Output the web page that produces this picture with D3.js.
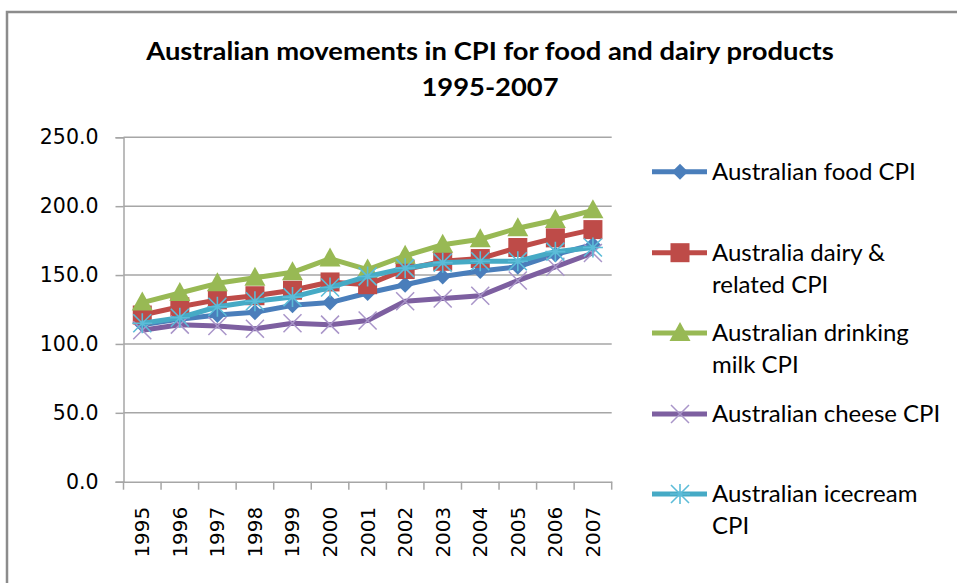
<!DOCTYPE html>
<html>
<head>
<meta charset="utf-8">
<script src="https://cdn.jsdelivr.net/npm/d3@7"></script>
<style>
  body { margin: 0; background: #fff; }
  svg { display: block; }
</style>
</head>
<body>
<svg id="chart" width="957" height="583"></svg>
<script>
const years = ['1995','1996','1997','1998','1999','2000','2001','2002','2003','2004','2005','2006','2007'];
const foodCPI = [114, 118, 121, 123, 128, 130, 137, 143, 149, 153, 156, 165, 172];
const dairyCPI = [121, 127, 132, 135, 139, 145, 143, 154, 160, 162, 170, 177, 183];
const milkCPI = [130, 137, 144, 148, 152, 162, 154, 164, 172, 176, 184, 190, 197];
const cheeseCPI = [110, 114, 113, 111, 115, 114, 117, 131, 133, 135, 146, 156, 166];
const icecreamCPI = [115, 119, 127, 131, 134, 141, 149, 155, 159, 160, 160, 167, 170];
const yTicks = [0, 50, 100, 150, 200, 250];
const seriesNames = [
  ['Australian food CPI'],
  ['Australia dairy &', 'related CPI'],
  ['Australian drinking', 'milk CPI'],
  ['Australian cheese CPI'],
  ['Australian icecream', 'CPI']
];

const series = [
  { values: foodCPI, color: '#4a7ebb', marker: 'diamond' },
  { values: dairyCPI, color: '#be4b48', marker: 'square' },
  { values: milkCPI, color: '#98b954', marker: 'triangle' },
  { values: cheeseCPI, color: '#7d5fa0', marker: 'x', markColor: '#a995c9' },
  { values: icecreamCPI, color: '#46aac5', marker: 'star', markColor: '#5cbcd8' }
];

const svg = d3.select('#chart');
const plot = { left: 123.5, right: 611.7, top: 137.3, bottom: 481.7 };

// frame
svg.append('path')
  .attr('d', `M7,583 V12 H957`)
  .attr('fill', 'none')
  .attr('stroke', '#8c8c8c')
  .attr('stroke-width', 2.5);

// title (source font is narrow and stretched, so widen it a bit)
const title = svg.append('text')
  .attr('text-anchor', 'middle')
  .attr('font-family', 'Lato')
  .attr('font-weight', 'bold')
  .attr('font-size', 25)
  .attr('fill', '#000')
  .attr('transform', 'translate(490,0) scale(1.095,1)');
title.append('tspan').attr('x', 0).attr('y', 60).text('Australian movements in CPI for food and dairy products');
title.append('tspan').attr('x', 0).attr('y', 96).text('1995-2007');

const x = d3.scaleBand().domain(years).range([plot.left, plot.right]);
const y = d3.scaleLinear().domain([0, 250]).range([plot.bottom, plot.top]);
const cx = d => x(d) + x.bandwidth() / 2;

// gridlines
svg.append('g')
  .selectAll('line')
  .data(yTicks.filter(d => d > 0))
  .enter().append('line')
  .attr('x1', plot.left).attr('x2', plot.right)
  .attr('y1', d => y(d)).attr('y2', d => y(d))
  .attr('stroke', '#a6a6a6').attr('stroke-width', 1.5);

// y axis
const yAxis = svg.append('g')
  .attr('transform', `translate(${plot.left},0)`)
  .call(d3.axisLeft(y).tickValues(yTicks).tickFormat(d3.format('.1f')).tickSize(8).tickPadding(17));
yAxis.select('.domain').attr('stroke', '#a6a6a6').attr('stroke-width', 1.5);
yAxis.selectAll('line').attr('stroke', '#a6a6a6').attr('stroke-width', 1.5);
yAxis.selectAll('text')
  .attr('font-family', 'DejaVu Sans')
  .attr('font-size', 20.5)
  .attr('fill', '#000');

// x axis
const xAxis = svg.append('g')
  .attr('transform', `translate(0,${plot.bottom})`)
  .call(d3.axisBottom(x).tickSize(0).tickPadding(0));
xAxis.select('.domain').attr('stroke', '#a6a6a6').attr('stroke-width', 1.5);
xAxis.selectAll('text')
  .attr('font-family', 'DejaVu Sans')
  .attr('font-size', 20)
  .attr('fill', '#000')
  .attr('text-anchor', 'end')
  .attr('dy', '0.35em')
  .attr('transform', 'translate(0,25) rotate(-90)');
xAxis.selectAll('.tick').append('line')
  .attr('x1', x.bandwidth() / 2).attr('x2', x.bandwidth() / 2)
  .attr('y1', 0).attr('y2', 8)
  .attr('stroke', '#a6a6a6').attr('stroke-width', 1.5);
xAxis.append('line')
  .attr('x1', plot.left).attr('x2', plot.left)
  .attr('y1', 0).attr('y2', 8)
  .attr('stroke', '#a6a6a6').attr('stroke-width', 1.5);

function drawMarker(g, type, fill, mark) {
  if (type === 'diamond') {
    g.append('path').attr('d', 'M0,-8 L8,0 L0,8 L-8,0 Z').attr('fill', fill);
  } else if (type === 'square') {
    g.append('rect').attr('x', -9.5).attr('y', -9.5).attr('width', 19).attr('height', 19).attr('fill', fill);
  } else if (type === 'triangle') {
    g.append('path').attr('d', 'M0,-11 L10.5,8 L-10.5,8 Z').attr('fill', fill);
  } else if (type === 'x') {
    g.append('path').attr('d', 'M-9,-9 L9,9 M-9,9 L9,-9')
      .attr('stroke', mark).attr('stroke-width', 1.5).attr('fill', 'none');
  } else if (type === 'star') {
    g.append('path').attr('d', 'M-9,-9 L9,9 M-9,9 L9,-9 M0,-10 V10 M-10,0 H10')
      .attr('stroke', mark).attr('stroke-width', 1.6).attr('fill', 'none');
  }
}

const line = d3.line().x((d, i) => cx(years[i])).y(d => y(d));

series.forEach(s => {
  const g = svg.append('g');
  g.append('path')
    .attr('d', line(s.values))
    .attr('fill', 'none')
    .attr('stroke', s.color)
    .attr('stroke-width', 5)
    .attr('stroke-linejoin', 'round');
  s.values.forEach((v, i) => {
    const m = g.append('g').attr('transform', `translate(${cx(years[i])},${y(v)})`);
    drawMarker(m, s.marker, s.color, s.markColor || s.color);
  });
});

// legend
const legendY = [171.7, 252.7, 333, 414, 494];
const legend = svg.append('g');
series.forEach((s, i) => {
  const g = legend.append('g').attr('transform', `translate(0,${legendY[i]})`);
  g.append('line')
    .attr('x1', 652).attr('x2', 707).attr('y1', 0).attr('y2', 0)
    .attr('stroke', s.color).attr('stroke-width', 5);
  const m = g.append('g').attr('transform', 'translate(680,0)');
  drawMarker(m, s.marker, s.color, s.markColor || s.color);
  const t = g.append('text')
    .attr('font-family', 'Lato')
    .attr('font-size', 24)
    .attr('fill', '#000');
  seriesNames[i].forEach((ln, j) => {
    t.append('tspan').attr('x', 712).attr('y', j * 32).attr('dy', '0.35em').text(ln);
  });
});
</script>
</body>
</html>
